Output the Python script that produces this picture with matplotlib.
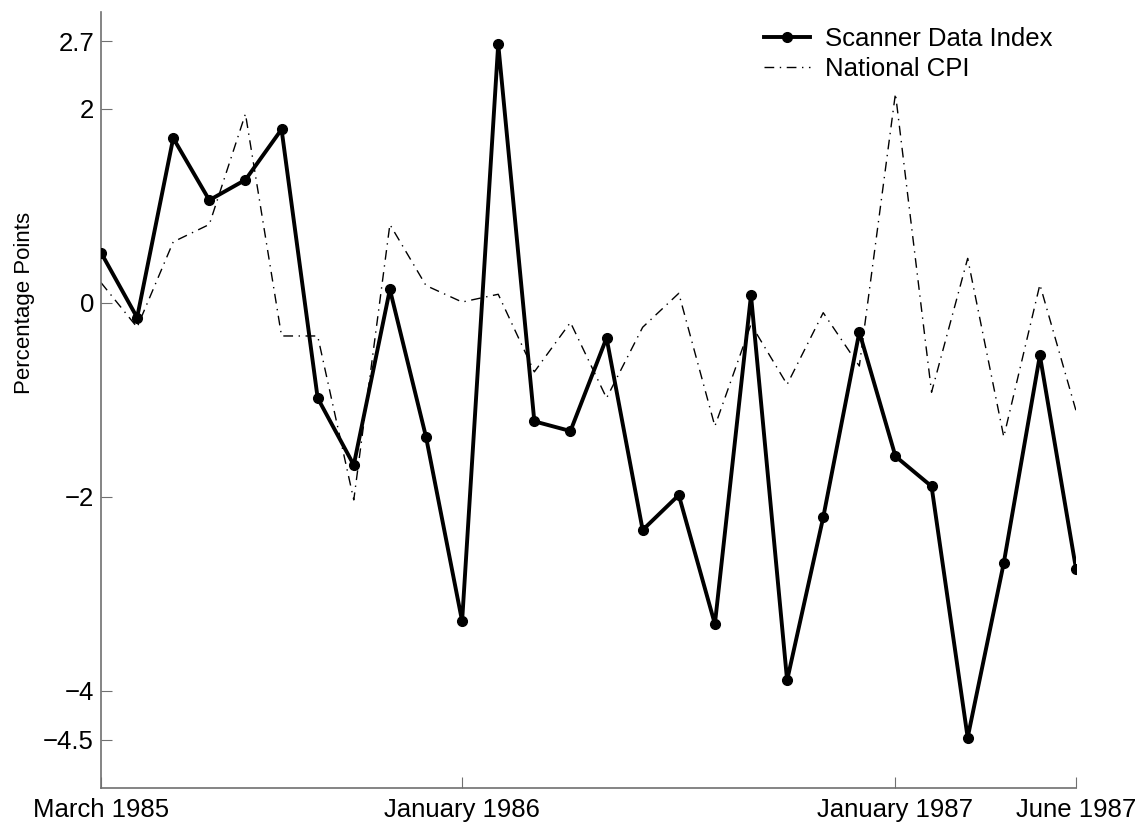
import matplotlib
matplotlib.use("Agg")
import matplotlib.pyplot as plt

plt.rcParams["font.family"] = ["Liberation Sans", "DejaVu Sans"]

# months since March 1985 (0 = March 1985, 27 = June 1987)
months = list(range(28))

scanner = [0.52, -0.15, 1.70, 1.06, 1.27, 1.79, -0.98, -1.67, 0.14, -1.38,
           -3.28, 2.67, -1.22, -1.32, -0.36, -2.34, -1.98, -3.31, 0.08, -3.89,
           -2.21, -0.30, -1.58, -1.89, -4.48, -2.68, -0.54, -2.74]

cpi = [0.21, -0.25, 0.63, 0.81, 1.95, -0.34, -0.34, -2.03, 0.81, 0.18,
       0.01, 0.09, -0.71, -0.20, -0.98, -0.25, 0.10, -1.27, -0.22, -0.84,
       -0.10, -0.65, 2.16, -0.92, 0.46, -1.38, 0.19, -1.11]

xtick_pos = [0, 10, 22, 27]
xtick_labels = ["March 1985", "January 1986", "January 1987", "June 1987"]
ytick_pos = [-4.5, -4, -2, 0, 2, 2.7]
ytick_labels = ["\u22124.5", "\u22124", "\u22122", "0", "2", "2.7"]

fig = plt.figure(figsize=(11.35, 8.3), dpi=100)
ax = fig.add_axes([101 / 1135, 42 / 830, 975 / 1135, 776 / 830])

ax.plot(months, scanner, color="black", lw=2.8, marker="o", markersize=7,
        label="Scanner Data Index", zorder=3)
ax.plot(months, cpi, color="black", lw=1.0, linestyle=(0, (7, 4, 1, 4)),
        label="National CPI", zorder=2)

ax.set_xlim(0, 27)
ax.set_ylim(-5, 3)
ax.set_xticks(xtick_pos)
ax.set_xticklabels(xtick_labels, fontsize=18.5)
ax.set_yticks(ytick_pos)
ax.set_yticklabels(ytick_labels, fontsize=18.5)
ax.tick_params(direction="in", length=8, color="#707070")
ax.tick_params(axis="y", pad=5)
ax.tick_params(axis="x", pad=7)

for s in ["top", "right"]:
    ax.spines[s].set_visible(False)
for s in ["left", "bottom"]:
    ax.spines[s].set_color("#707070")
    ax.spines[s].set_linewidth(1.2)

ax.set_ylabel("Percentage Points", fontsize=16)
ax.yaxis.set_label_coords(-0.068, 0.625)

ax.legend(loc="upper right", bbox_to_anchor=(0.992, 1.0), frameon=False,
          fontsize=18.5, handlelength=1.8, handletextpad=0.6,
          borderaxespad=0.2, labelspacing=0.2)

fig.savefig("out.png", dpi=100)
